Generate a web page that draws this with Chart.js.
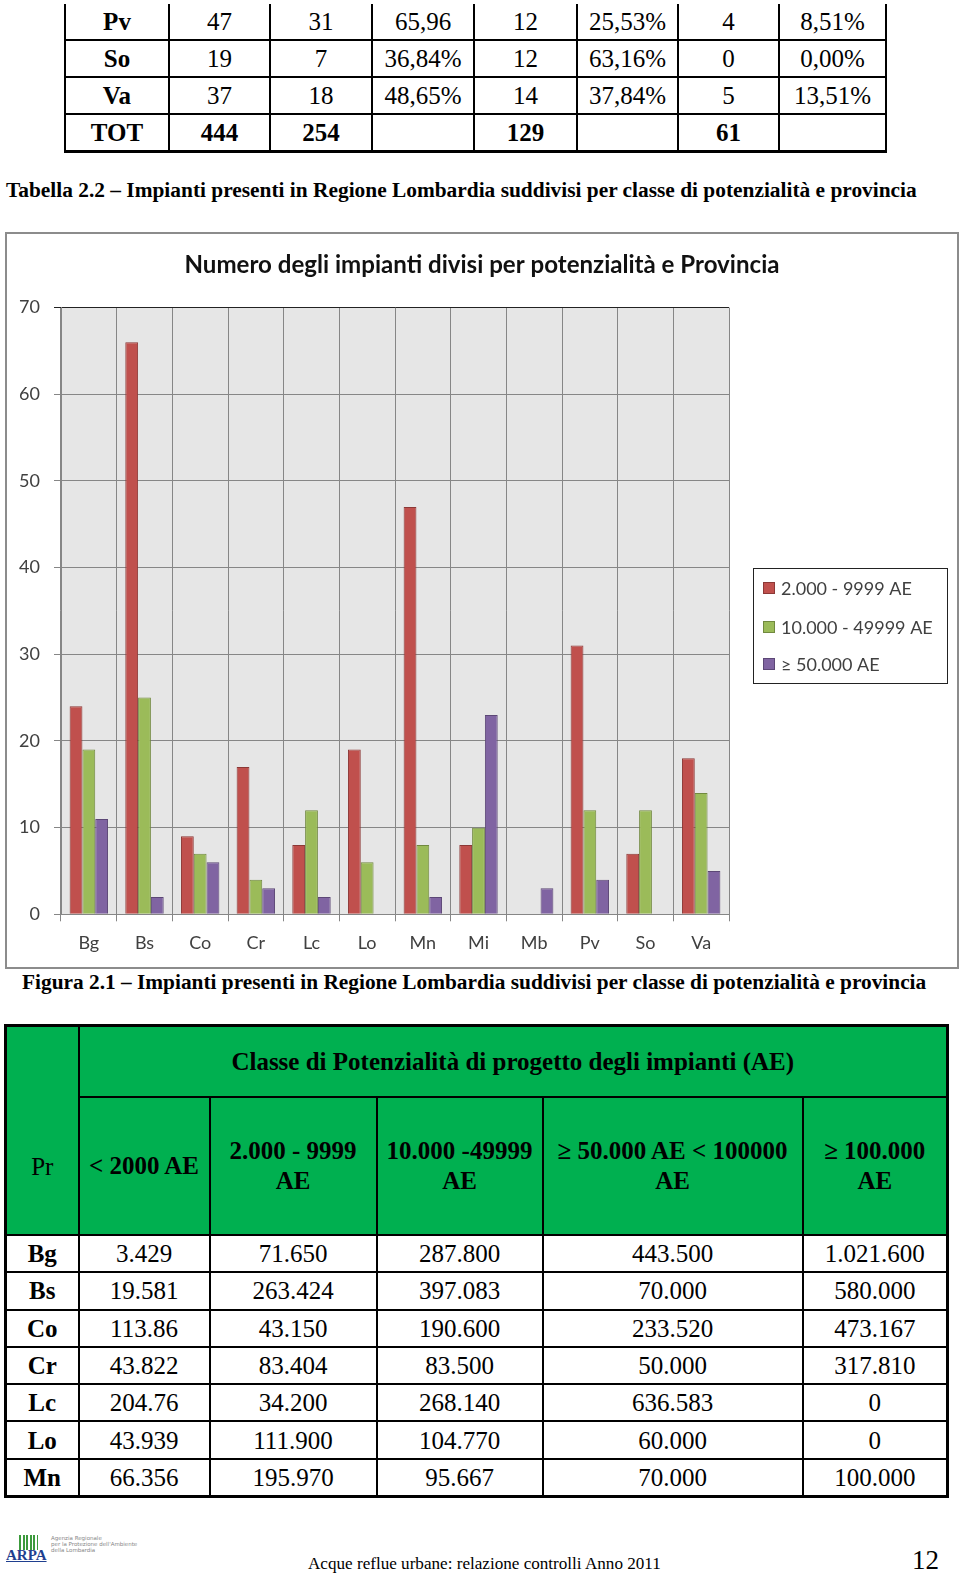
<!DOCTYPE html>
<html><head><meta charset="utf-8">
<script src="https://cdn.jsdelivr.net/npm/chart.js@4.4.1/dist/chart.umd.min.js"></script>
<style>
html,body{margin:0;padding:0;background:#fff;}
body{width:960px;height:1576px;overflow:hidden;position:relative;font-family:"Liberation Serif","Times New Roman",serif;color:#000;}
.abs{position:absolute;}
table{border-collapse:collapse;table-layout:fixed;}
#t1{left:64px;top:4px;font-size:25px;border-bottom:3px solid #000;}
#t1 td{border:2px solid #000;text-align:center;padding:0;height:35px;line-height:35px;white-space:nowrap;}
#t1 tr:first-child td{border-top:none;}
#t1 td.b{font-weight:bold;}
.cap{white-space:nowrap;font-weight:bold;line-height:1;}
#frame{left:5px;top:232px;width:950px;height:733px;border:2px solid #8c8c8c;}
#t2{left:4px;top:1024px;font-size:25px;border:3px solid #000;}
#t2 td{border:2px solid #000;text-align:center;padding:0;white-space:nowrap;}
#t2 .g{background:#00B050;}
#t2 .hb{font-weight:bold;line-height:30px;}
#t2 .dr td{height:35.3px;line-height:35px;}
#t2 td.b{font-weight:bold;}
#foot{left:308px;white-space:nowrap;line-height:1;}
#page{left:912px;top:1545px;font-size:27px;}
</style></head>
<body>
<table id="t1" class="abs"><colgroup id="t1cols"></colgroup><tbody id="t1b"></tbody></table>
<div id="cap1" class="abs cap">Tabella 2.2 – Impianti presenti in Regione Lombardia suddivisi per classe di potenzialità e provincia</div>
<div id="frame" class="abs"><canvas id="c" width="950" height="733"></canvas></div>
<div id="cap2" class="abs cap">Figura 2.1 – Impianti presenti in Regione Lombardia suddivisi per classe di potenzialità e provincia</div>
<table id="t2" class="abs"><colgroup id="t2cols"></colgroup><tbody id="t2b"></tbody></table>
<div class="abs" style="left:19px;top:1535px;width:19px;height:15px;background:repeating-linear-gradient(90deg,#3c9a3c 0 2px,#fff 2px 3.6px);"></div>
<div class="abs" style="left:6px;top:1548px;font:bold 15px 'Liberation Serif',serif;color:#1f3f8f;text-decoration:underline;line-height:1;">ARPA</div>
<div class="abs" style="left:51px;top:1535px;font:5.5px 'DejaVu Sans',sans-serif;color:#888;line-height:6px;white-space:nowrap;">Agenzia Regionale<br>per la Protezione dell'Ambiente<br>della Lombardia</div>
<div id="foot" class="abs">Acque reflue urbane: relazione controlli Anno 2011</div>
<div id="page" class="abs">12</div>
<script>
// ---------- chart data ----------
const categories = ['Bg','Bs','Co','Cr','Lc','Lo','Mn','Mi','Mb','Pv','So','Va'];
const seriesLabels = ['2.000 - 9999 AE','10.000 - 49999 AE','\u2265 50.000 AE'];
const class2000to9999 = [24,66,9,17,8,19,47,8,0,31,7,18];
const class10000to49999 = [19,25,7,4,12,6,8,10,0,12,12,14];
const class50000plus = [11,2,6,3,2,0,2,23,3,4,0,5];
const yMin = 0, yMax = 70, yStep = 10;
const chartTitle = 'Numero degli impianti divisi per potenzialità e Provincia';

// ---------- table 2.2 (tail) ----------
const t1Rows = ['Pv','So','Va','TOT'];
const t1Values = [
  ['47','31','65,96','12','25,53%','4','8,51%'],
  ['19','7','36,84%','12','63,16%','0','0,00%'],
  ['37','18','48,65%','14','37,84%','5','13,51%'],
  ['444','254','','129','','61','']
];
// ---------- AE table ----------
const t2Title = 'Classe di Potenzialità di progetto degli impianti (AE)';
const t2Heads = ['&lt; 2000 AE','2.000 - 9999<br>AE','10.000 -49999<br>AE','\u2265 50.000 AE &lt; 100000<br>AE','\u2265 100.000<br>AE'];
const t2Rows = ['Bg','Bs','Co','Cr','Lc','Lo','Mn'];
const t2Values = [
  ['3.429','71.650','287.800','443.500','1.021.600'],
  ['19.581','263.424','397.083','70.000','580.000'],
  ['113.86','43.150','190.600','233.520','473.167'],
  ['43.822','83.404','83.500','50.000','317.810'],
  ['204.76','34.200','268.140','636.583','0'],
  ['43.939','111.900','104.770','60.000','0'],
  ['66.356','195.970','95.667','70.000','100.000']
];

// build table 1
(function(){
  const w=[104,101,102,102,103,101,101,107];
  document.getElementById('t1cols').innerHTML=w.map(x=>'<col style="width:'+x+'px">').join('');
  let h='';
  t1Rows.forEach((r,i)=>{
    const tot = r==='TOT';
    h+='<tr><td class="b">'+r+'</td>'+t1Values[i].map(v=>'<td'+(tot?' class="b"':'')+'>'+v+'</td>').join('')+'</tr>';
  });
  document.getElementById('t1b').innerHTML=h;
})();
// build table 2
(function(){
  const w=[73,131,167,166,260,145];
  document.getElementById('t2cols').innerHTML=w.map(x=>'<col style="width:'+x+'px">').join('');
  let h='<tr><td class="g" rowspan="2" style="height:128px;padding-top:72px;">Pr</td><td class="g hb" colspan="5" style="height:69px">'+t2Title+'</td></tr>';
  h+='<tr>'+t2Heads.map(x=>'<td class="g hb" style="height:136px">'+x+'</td>').join('')+'</tr>';
  t2Rows.forEach((r,i)=>{
    h+='<tr class="dr"><td class="b">'+r+'</td>'+t2Values[i].map(v=>'<td>'+v+'</td>').join('')+'</tr>';
  });
  document.getElementById('t2b').innerHTML=h;
})();

// fit helpers
const mctx=document.createElement('canvas').getContext('2d');
function fitSize(text,weight,family,target){
  mctx.font=weight+' 100px '+family;
  return 100*target/mctx.measureText(text).width;
}
function placeText(id,weight,x0,x1,yc){
  const el=document.getElementById(id);
  const s=fitSize(el.textContent,weight,'"Liberation Serif"',x1-x0);
  el.style.fontSize=s+'px';el.style.left=x0+'px';el.style.top=(yc-s*0.55)+'px';
}
placeText('cap1','bold',6,918,192);
placeText('cap2','bold',22,927,984);
placeText('foot','normal',308,662,1564);

// ---------- chart ----------
const titleSize = fitSize(chartTitle,'bold','Lato',595);
const bgPlugin={id:'bg',beforeDraw(ch){const a=ch.chartArea,c=ch.ctx;c.save();c.fillStyle='#e6e6e6';c.fillRect(a.left,a.top,a.right-a.left,a.bottom-a.top);c.restore();}};
const legendPlugin={id:'boxlegend',afterDraw(ch){
  const c=ch.ctx;c.save();
  c.strokeStyle='#222';c.lineWidth=1;c.strokeRect(746.5,334.5,194,115);
  const ys=[354,393,430];
  c.font='18px Lato';c.textBaseline='middle';
  ch.data.datasets.forEach((d,i)=>{
    c.fillStyle=d.backgroundColor;c.fillRect(756,ys[i]-6,12,12);
    c.strokeStyle=d.borderColor;c.strokeRect(756.5,ys[i]-5.5,11,11);
    c.fillStyle='#404040';c.fillText(d.label,774,ys[i]+1);
  });
  c.restore();
}};
const tfH = titleSize*1.2;
new Chart(document.getElementById('c'),{
  type:'bar',
  data:{labels:categories,datasets:[
    {label:seriesLabels[0],data:class2000to9999,backgroundColor:'#C0504D',borderColor:'#8C3836',borderWidth:1},
    {label:seriesLabels[1],data:class10000to49999,backgroundColor:'#9BBB59',borderColor:'#71893F',borderWidth:1},
    {label:seriesLabels[2],data:class50000plus,backgroundColor:'#8064A2',borderColor:'#5C4776',borderWidth:1}
  ]},
  options:{
    responsive:false,animation:false,devicePixelRatio:1,
    datasets:{bar:{barPercentage:1,categoryPercentage:0.69}},
    layout:{padding:0},
    plugins:{
      legend:{display:false},tooltip:{enabled:false},
      title:{display:true,text:chartTitle,color:'#111',font:{family:'Lato',size:titleSize,weight:'bold'},padding:{top:31-tfH/2,bottom:73.6-(31+tfH/2)}}
    },
    scales:{
      x:{grid:{color:'#868686',tickLength:7,offset:true},border:{color:'#868686'},
         ticks:{color:'#404040',font:{family:'Lato',size:18},padding:11},
         afterFit(s){s.height=52.7;}},
      y:{min:yMin,max:yMax,
         grid:{color:(ctx)=>ctx.tick&&ctx.tick.value===yMax?'#222':'#868686',tickLength:7},border:{color:'#868686'},
         ticks:{stepSize:yStep,color:'#404040',font:{family:'Lato',size:18},padding:14},
         afterFit(s){s.width=54;}},
      legendSpace:{position:'right',display:true,grid:{display:false},border:{display:false},ticks:{display:false},
         afterFit(s){s.width=228;}}
    }
  },
  plugins:[bgPlugin,legendPlugin]
});
</script>
</body></html>
